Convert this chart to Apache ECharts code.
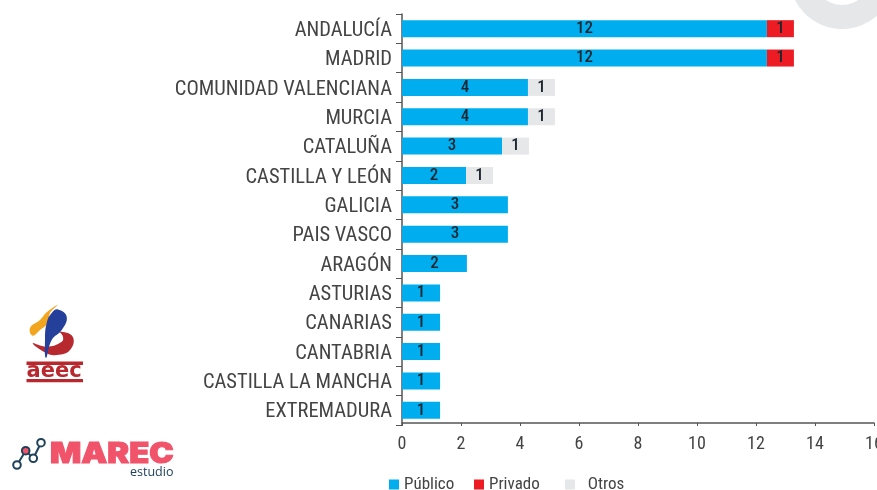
<!DOCTYPE html>
<html><head><meta charset="utf-8">
<style>html,body{margin:0;padding:0;background:#fff}#c{width:877px;height:490px}</style>
<script src="https://cdn.jsdelivr.net/npm/echarts@6/dist/echarts.min.js"></script>
</head><body><div id="c"></div>
<script>
const categories = ['ANDALUCÍA','MADRID','COMUNIDAD VALENCIANA','MURCIA','CATALUÑA','CASTILLA Y LEÓN','GALICIA','PAIS VASCO','ARAGÓN','ASTURIAS','CANARIAS','CANTABRIA','CASTILLA LA MANCHA','EXTREMADURA'];
// bar lengths
const publico = [12.37,12.37,4.27,4.27,3.39,2.17,3.59,3.59,2.2,1.29,1.29,1.29,1.29,1.29];
const privado = [0.915,0.915,null,null,null,null,null,null,null,null,null,null,null,null];
const otros   = [null,null,0.915,0.915,0.915,0.915,null,null,null,null,null,null,null,null];
// numbers printed on the bars
const publicoLabels = [12,12,4,4,3,2,3,3,2,1,1,1,1,1];
const privadoLabels = [1,1];
const otrosLabels   = [null,null,1,1,1,1];

const FONT = '"Roboto Condensed","Roboto",sans-serif';
const chart = echarts.init(document.getElementById('c'), null, {renderer:'canvas'});
const barLabel = arr => ({show:true, position:'inside', color:'#1d2730', fontFamily:FONT, fontSize:17, fontWeight:500,
  formatter:p => arr[p.dataIndex] == null ? '' : String(arr[p.dataIndex])});
const series = [
  {name:'Público', color:'#00AEEF', data:publico, labels:publicoLabels},
  {name:'Privado', color:'#ED1C24', data:privado, labels:privadoLabels},
  {name:'Otros',   color:'#E6E7E8', data:otros,   labels:otrosLabels}
].map(s => ({name:s.name, type:'bar', stack:'t', barWidth:17, itemStyle:{color:s.color}, data:s.data, label:barLabel(s.labels), silent:true}));

const legendBase = {orient:'horizontal', top:471, itemWidth:10, itemHeight:10, icon:'rect',
  textStyle:{fontFamily:FONT, fontSize:17, color:'#444'}};
const C = '#B8282F', NAVY = '#1F425A', CORAL = '#F0536A';
const poly = (points, fill, z) => ({type:'polygon', z:z||1, shape:{points, smooth:0.45}, style:{fill}});
const node = (x,y,fill) => ({type:'circle', z:6, shape:{cx:x,cy:y,r:3.8}, style:{fill, stroke:NAVY, lineWidth:2}});
const link = (a,b,c,d) => ({type:'line', z:5, shape:{x1:a,y1:b,x2:c,y2:d}, style:{stroke:NAVY, lineWidth:2}});

chart.setOption({
  animation:false,
  backgroundColor:'#fff',
  grid:{left:402, right:3, top:14, height:411, containLabel:false, outerBoundsMode:'none'},
  xAxis:{type:'value', min:0, max:16, interval:2, offset:-2,
    axisLine:{show:true, lineStyle:{color:'#555', width:1.5}},
    axisTick:{show:true, length:3, lineStyle:{color:'#555', width:1}},
    splitLine:{show:false},
    axisLabel:{fontFamily:FONT, fontSize:18, color:'#444', margin:12, hideOverlap:false, showMaxLabel:true}},
  yAxis:{type:'category', inverse:true, data:categories,
    axisLine:{show:true, lineStyle:{color:'#555', width:1.5}},
    axisTick:{show:true, length:6, alignWithLabel:false, lineStyle:{color:'#555', width:1}},
    axisLabel:{margin:10, interval:0, formatter:v => '{a|' + v + '}',
      rich:{a:{fontFamily:FONT, fontSize:20.5, color:'#444', padding:[4,0,0,0]}}}},
  legend:[
    Object.assign({}, legendBase, {left:384, data:['Público']}),
    Object.assign({}, legendBase, {left:469, data:['Privado']}),
    Object.assign({}, legendBase, {left:560, data:['Otros'], formatter:n => '  ' + n})
  ],
  series,
  graphic:[
    // decorative grey ring, top right
    {type:'ring', z:0, shape:{cx:842, cy:-23.6, r:52.6, r0:28.6}, style:{fill:'#E6E7E8'}},
    // AEEC logo
    poly([[57.7,305],[47,312],[40,320],[30,328],[32.7,335.7],[40,330],[48,323],[50,313]], '#F2A51F', 2),
    poly([[61.7,341.7],[46.7,346.7],[32.7,343.3],[46.7,353.3],[56.7,355],[70,350],[72.7,336.7],[60,331.7],[63,336.7]], C, 2),
    poly([[58,309.5],[66.7,316.7],[61.7,330],[51.7,340],[46,358],[45,340],[46.7,323],[51.7,313]], '#24409B', 3),
    {type:'rect', z:2, shape:{x:26.5, y:361.5, width:56.5, height:3.5}, style:{fill:C}},
    {type:'rect', z:2, shape:{x:26.5, y:379, width:56.5, height:3.2}, style:{fill:C}},
    {type:'text', z:3, x:26.5, y:361, style:{text:'aeec', fill:C, fontFamily:'"DejaVu Sans"', fontWeight:'bold', fontSize:21}},
    // MAREC logo
    link(17,465,25.7,450.7), link(25.7,450.7,33.3,458.3), link(33.3,458.3,41,442.7),
    node(17,465,'#fff'), node(25.7,450.7,CORAL), node(33.3,458.3,'#fff'), node(41,442.7,'#fff'),
    {type:'text', z:3, x:50, y:441, scaleX:1.17, style:{text:'MAREC', fill:CORAL, stroke:CORAL, lineWidth:1, fontFamily:'Inter', fontWeight:900, fontSize:28}},
    {type:'text', z:3, x:130, y:466, style:{text:'estudio', fill:NAVY, fontFamily:'"Open Sans"', fontSize:12.5}}
  ]
});
</script></body></html>
